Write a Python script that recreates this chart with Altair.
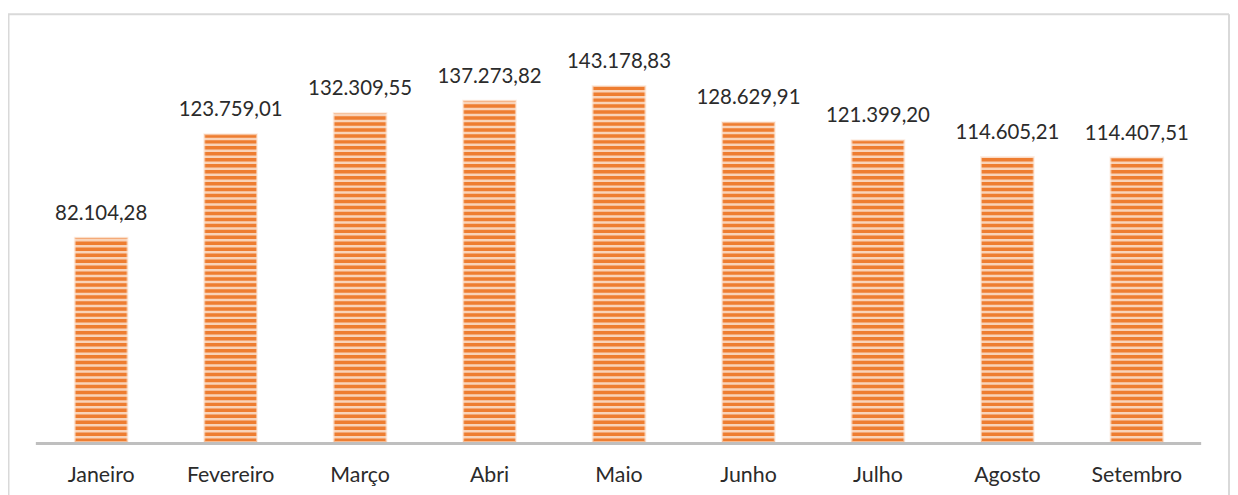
import altair as alt
import pandas as pd

months = ["Janeiro", "Fevereiro", "Março", "Abri", "Maio", "Junho", "Julho", "Agosto", "Setembro"]
values = [82104.28, 123759.01, 132309.55, 137273.82, 143178.83, 128629.91, 121399.20, 114605.21, 114407.51]


def br(v):
    s = f"{v:,.2f}"
    return s.replace(",", "X").replace(".", ",").replace("X", ".")


labels = [br(v) for v in values]

df = pd.DataFrame({"month": months, "value": values, "label": labels})

# stripe pattern (derived from the values)
W, H = 1229, 482
PX_PER_UNIT = 2.5 / 1000.0
period = 6.0 / PX_PER_UNIT
thick = 3.5 / PX_PER_UNIT
rows = []
for m, v in zip(months, values):
    k = 0
    while k * period < v:
        y0 = k * period
        rows.append({"month": m, "y0": y0, "y1": min(y0 + thick, v)})
        k += 1
stripes = pd.DataFrame(rows)

ORANGE = "#EE7D30"
LIGHT = "#F9D3B8"
TEXT = "#2B2B2B"
FONT = "Lato"

xenc = alt.X("month:N", sort=months,
             scale=alt.Scale(paddingInner=0.593, paddingOuter=0.516), axis=None)
yscale = alt.Scale(domain=[-20800, 172000], nice=False, zero=False)

base_bars = alt.Chart(df).mark_bar(color=LIGHT).encode(
    x=xenc,
    y=alt.Y("value:Q", scale=yscale, axis=None),
    y2=alt.datum(0),
)

stripe_bars = alt.Chart(stripes).mark_bar(color=ORANGE).encode(
    x=xenc,
    y=alt.Y("y0:Q", scale=yscale, axis=None),
    y2="y1:Q",
)

edges = alt.Chart(df).mark_bar(fillOpacity=0, stroke="#FBE2D0", strokeWidth=2,
                               strokeOpacity=0.6).encode(
    x=xenc,
    y=alt.Y("value:Q", scale=yscale, axis=None),
    y2=alt.datum(0),
)

value_labels = alt.Chart(df).mark_text(
    dy=-18, baseline="alphabetic", fontSize=20.5, font=FONT, color=TEXT
).encode(
    x=xenc,
    y=alt.Y("value:Q", scale=yscale, axis=None),
    text="label:N",
)

month_labels = alt.Chart(df).mark_text(
    baseline="alphabetic", fontSize=21.5, font=FONT, color=TEXT
).encode(
    x=xenc,
    y=alt.value(470),
    text="month:N",
)

one = pd.DataFrame({"a": [0]})
axis_line = alt.Chart(one).mark_rule(color="#BFBFBF", strokeWidth=3).encode(
    x=alt.value(28), x2=alt.value(1200), y=alt.value(431.5)
)
box_top = alt.Chart(one).mark_rule(color="#D9D9D9", strokeWidth=2).encode(
    x=alt.value(0), x2=alt.value(1228), y=alt.value(0)
)
box_left = alt.Chart(one).mark_rule(color="#D9D9D9", strokeWidth=2).encode(
    x=alt.value(0.5), y=alt.value(0), y2=alt.value(H + 5)
)
box_right = alt.Chart(one).mark_rule(color="#D9D9D9", strokeWidth=2).encode(
    x=alt.value(1228), y=alt.value(0), y2=alt.value(H + 5)
)

chart = alt.layer(
    base_bars, stripe_bars, edges, axis_line, value_labels, month_labels,
    box_top, box_left, box_right
).properties(
    width=W, height=H,
    autosize=alt.AutoSizeParams(type="none"),
    padding={"left": 0, "top": 5, "right": 0, "bottom": 0},
    background="white",
).configure_view(stroke=None)

chart.save("out.html", embed_options={"renderer": "svg", "actions": False})
